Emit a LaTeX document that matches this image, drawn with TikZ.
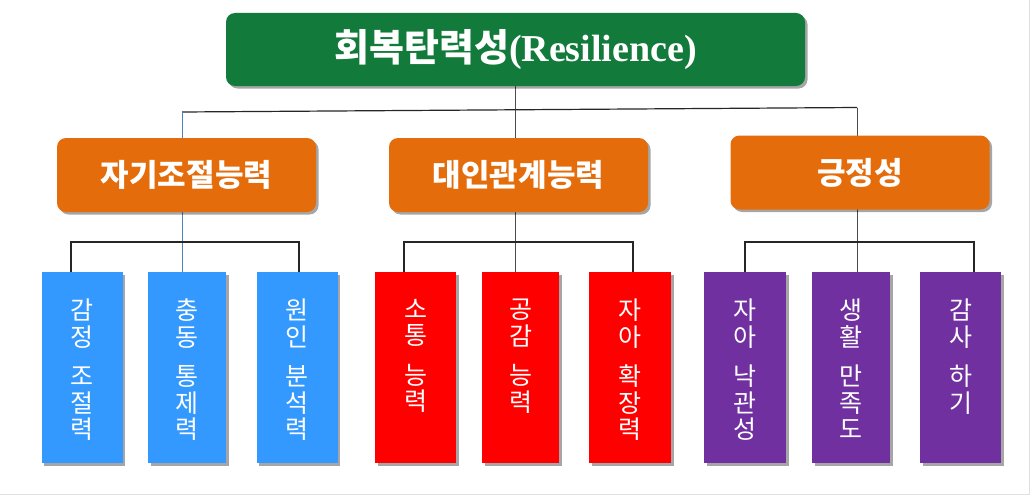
\documentclass[tikz,border=0pt]{standalone}
\usepackage{fontspec}
\setmainfont{Noto Sans CJK KR}
\newfontfamily\krfont{Noto Sans CJK KR}
\newfontfamily\enfont{Liberation Serif}
\usetikzlibrary{shadows,backgrounds}
\definecolor{rootgreen}{RGB}{18,122,58}
\definecolor{midorange}{RGB}{228,108,10}
\definecolor{leafblue}{RGB}{51,153,255}
\definecolor{leafred}{RGB}{255,0,0}
\definecolor{leafpurple}{RGB}{112,48,160}
\definecolor{linkblue}{RGB}{79,129,189}
\definecolor{framegray}{RGB}{224,224,224}
\tikzset{
  boxshadow/.style={drop shadow={shadow xshift=2.5pt,shadow yshift=-2.5pt,fill=black,opacity=0.35}},
  rootbox/.style={fill=rootgreen,rounded corners=9pt,minimum width=579pt,minimum height=73pt,
    text=white,font=\fontsize{38}{40}\selectfont\bfseries,boxshadow,inner sep=0pt},
  midbox/.style={fill=midorange,rounded corners=9pt,minimum width=259pt,minimum height=74pt,
    text=white,font=\fontsize{31}{33}\selectfont\bfseries,boxshadow,inner sep=0pt},
  leafbox/.style={minimum width=81pt,minimum height=191pt,boxshadow,inner sep=0pt},
  leaftext/.style={anchor=north,align=center,text=white,inner sep=0pt,
    font=\fontsize{25}{26.5}\selectfont},
  conn/.style={draw=black!85,line width=1.2pt},
  connthin/.style={draw=black!70,line width=0.8pt},
}
\begin{document}
\begin{tikzpicture}[x=1pt,y=-1pt]
\useasboundingbox (0,0) rectangle (1032,495);
% root
\node[rootbox] (root) at (515.5,49.5) {\krfont 회복탄력성\enfont(Resilience)};
% middle level
\node[midbox] (g1) at (186.5,175) {자기조절능력};
\node[midbox] (g2) at (518.5,175) {대인관계능력};
\node[midbox] (g3) at (860,172.5) {긍정성};
% leaves group 1
\node[leafbox,fill=leafblue] (l11) at (82,367.5) {};
\node[leafbox,fill=leafblue,minimum width=78pt] (l12) at (187,367.5) {};
\node[leafbox,fill=leafblue] (l13) at (297,367.5) {};
% leaves group 2
\node[leafbox,fill=leafred] (l21) at (415.5,367.5) {};
\node[leafbox,fill=leafred,minimum width=77pt] (l22) at (520.5,367.5) {};
\node[leafbox,fill=leafred,minimum width=82pt] (l23) at (630,367.5) {};
% leaves group 3
\node[leafbox,fill=leafpurple,minimum width=82pt] (l31) at (745,367.5) {};
\node[leafbox,fill=leafpurple,minimum width=78pt] (l32) at (851,367.5) {};
\node[leafbox,fill=leafpurple] (l33) at (960.5,367.5) {};
% leaf labels
\node[leaftext] (t11) at ([yshift=-27pt]l11.north) {감\\정\\[13pt]조\\절\\력};
\node[leaftext] (t12) at ([yshift=-27pt]l12.north) {충\\동\\[13pt]통\\제\\력};
\node[leaftext] (t13) at ([yshift=-27pt]l13.north) {원\\인\\[13pt]분\\석\\력};
\node[leaftext] (t21) at ([yshift=-27pt]l21.north) {소\\통\\[13pt]능\\력};
\node[leaftext] (t22) at ([yshift=-27pt]l22.north) {공\\감\\[13pt]능\\력};
\node[leaftext] (t23) at ([yshift=-27pt]l23.north) {자\\아\\[13pt]확\\장\\력};
\node[leaftext] (t31) at ([yshift=-27pt]l31.north) {자\\아\\[13pt]낙\\관\\성};
\node[leaftext] (t32) at ([yshift=-27pt]l32.north) {생\\활\\[13pt]만\\족\\도};
\node[leaftext] (t33) at ([yshift=-27pt]l33.north) {감\\사\\[13pt]하\\기};
% hub coordinates
\coordinate (h1) at (182,112);
\coordinate (h2) at (515.5,110);
\coordinate (h3) at (857,107.5);
\coordinate (k11) at (71,242);  \coordinate (k13) at (299,242);
\coordinate (k21) at (404,242); \coordinate (k23) at (633,242);
\coordinate (k31) at (745,242); \coordinate (k33) at (974,242);
\begin{pgfonlayer}{background}
\fill[white] (0,0) rectangle (1032,495);
\draw[framegray,line width=1pt] (0,494) -- (1029,494) -- (1029,0);
% top level
\draw[connthin] (root.south -| h2) -- (h2);
\draw[conn] (h1) -- (h3);
\draw[draw=linkblue,line width=1pt] (h1) -- (l12.north -| h1);
\draw[connthin] (h2) -- (l22.north -| h2);
\draw[connthin] (h3) -- (l32.north -| h3);
% brackets
\draw[conn] (l11.north -| k11) |- (k13) -- (l13.north -| k13);
\draw[conn] (l21.north -| k21) |- (k23) -- (l23.north -| k23);
\draw[conn] (l31.north -| k31) |- (k33) -- (l33.north -| k33);
\end{pgfonlayer}
\end{tikzpicture}
\end{document}
